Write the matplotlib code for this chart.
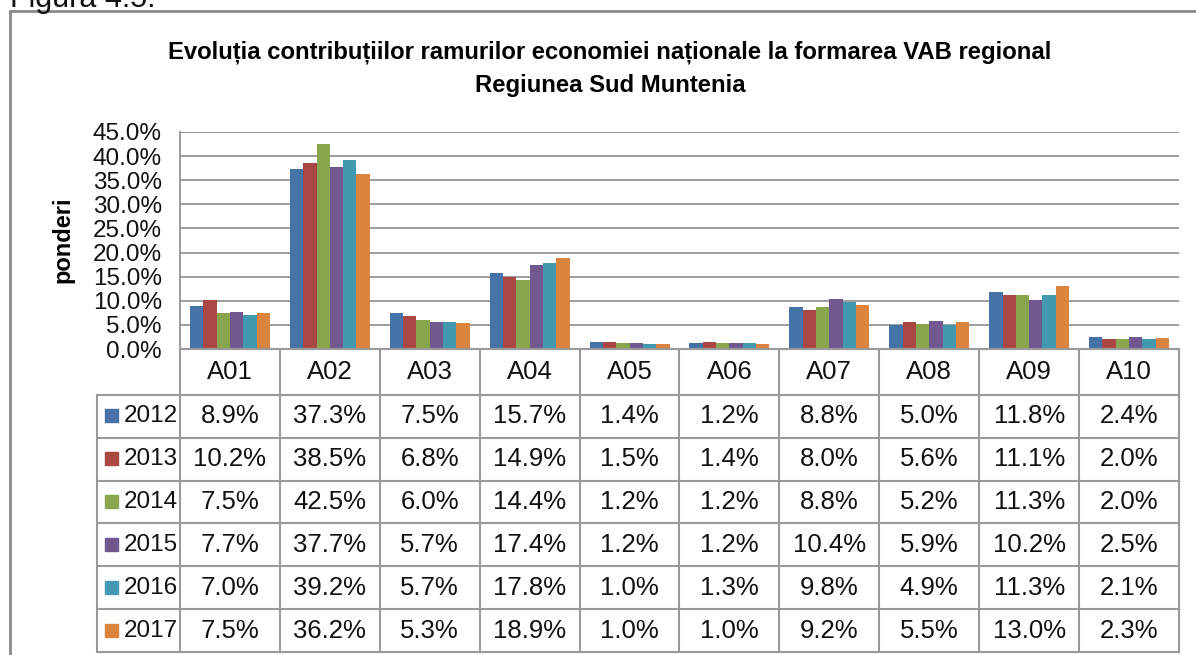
import numpy as np
import matplotlib
matplotlib.use('Agg')
import matplotlib.pyplot as plt
from matplotlib.patches import Rectangle

plt.rcParams['font.family'] = ['Liberation Sans', 'DejaVu Sans']

# --- data ---
categories = ['A01', 'A02', 'A03', 'A04', 'A05', 'A06', 'A07', 'A08', 'A09', 'A10']
years = ['2012', '2013', '2014', '2015', '2016', '2017']
v2012 = [8.9, 37.3, 7.5, 15.7, 1.4, 1.2, 8.8, 5.0, 11.8, 2.4]
v2013 = [10.2, 38.5, 6.8, 14.9, 1.5, 1.4, 8.0, 5.6, 11.1, 2.0]
v2014 = [7.5, 42.5, 6.0, 14.4, 1.2, 1.2, 8.8, 5.2, 11.3, 2.0]
v2015 = [7.7, 37.7, 5.7, 17.4, 1.2, 1.2, 10.4, 5.9, 10.2, 2.5]
v2016 = [7.0, 39.2, 5.7, 17.8, 1.0, 1.3, 9.8, 4.9, 11.3, 2.1]
v2017 = [7.5, 36.2, 5.3, 18.9, 1.0, 1.0, 9.2, 5.5, 13.0, 2.3]
series = [v2012, v2013, v2014, v2015, v2016, v2017]
colors = ['#4572A7', '#AA4643', '#89A54E', '#71588F', '#4198AF', '#DB843D']
yticks = [0, 5, 10, 15, 20, 25, 30, 35, 40, 45]

title = 'Evoluția contribuțiilor ramurilor economiei naționale la formarea VAB regional\nRegiunea Sud Muntenia'

W, H = 1196, 655
grid_c = '#8c8c8c'
line_c = '#9a9a9a'


def fx(px):
    return px / W


def fy(py):
    return 1 - py / H


fig = plt.figure(figsize=(W / 100, H / 100), dpi=100)

# caption cut at the top of the page and the chart frame
fig.text(fx(10), fy(7), 'Figura 4.5.', fontsize=22, ha='left', va='baseline', color='#111111')
fig.patches.append(Rectangle((fx(10), fy(700)), fx(1250) - fx(10), fy(11) - fy(700),
                             transform=fig.transFigure, fill=False, edgecolor='#8a8a8a',
                             linewidth=2, clip_on=False))

fig.text(fx(610), fy(69), title, fontsize=17.2, fontweight='bold', ha='center', va='center',
         linespacing=1.55)

# --- bars ---
ax = fig.add_axes([fx(180), fy(349), fx(1179) - fx(180), fy(132) - fy(349)])
x = np.arange(len(categories))
bw = 0.8 / len(years)
for i, (yr, vals, c) in enumerate(zip(years, series, colors)):
    ax.bar(x - 0.4 + bw * (i + 0.5), vals, width=bw, color=c, linewidth=0, zorder=3)

ax.set_xlim(-0.5, len(categories) - 0.5)
ax.set_ylim(0, 45)
ax.set_yticks(yticks)
ax.set_yticklabels([f'{t:.1f}%' for t in yticks], fontsize=17.5, color='#111111')
ax.set_xticks([])
ax.tick_params(axis='y', length=0, pad=13)
ax.yaxis.grid(True, color=grid_c, linewidth=1.2, zorder=0)
for s in ['top', 'right', 'bottom']:
    ax.spines[s].set_visible(False)
ax.spines['left'].set_color(grid_c)
ax.spines['left'].set_linewidth(1.2)
fig.text(fx(63), fy(240), 'ponderi', rotation=90, fontsize=17, fontweight='bold',
         ha='center', va='center')

# --- data table under the chart ---
tax = fig.add_axes([fx(97), fy(652), fx(1179) - fx(97), fy(349) - fy(652)])
left = -1.33
hdr = 1.07
nrows = len(years)
tax.set_xlim(left, len(categories) - 0.5)
tax.set_ylim(hdr + nrows, 0)
tax.axis('off')

tax.plot([-0.5, len(categories) - 0.5], [0, 0], color=line_c, lw=1.5, clip_on=False)
for k in range(nrows + 1):
    tax.plot([left, len(categories) - 0.5], [hdr + k, hdr + k], color=line_c, lw=1.5, clip_on=False)
for j in range(len(categories) + 1):
    tax.plot([j - 0.5, j - 0.5], [0, hdr + nrows], color=line_c, lw=1.5, clip_on=False)
tax.plot([left, left], [hdr, hdr + nrows], color=line_c, lw=1.5, clip_on=False)

for j, cat in enumerate(categories):
    tax.text(j, hdr / 2, cat, fontsize=18.5, ha='center', va='center', color='#111111')

for k, (yr, vals, c) in enumerate(zip(years, series, colors)):
    yc = hdr + k + 0.5
    tax.add_patch(Rectangle((left + 0.08, yc - 0.16), 0.13, 0.30, color=c, clip_on=False))
    tax.text(left + 0.27, yc, yr, fontsize=17.5, ha='left', va='center', color='#111111')
    for j, v in enumerate(vals):
        tax.text(j, yc, f'{v:.1f}%', fontsize=18.5, ha='center', va='center', color='#111111')

fig.savefig('out.png', dpi=100)
